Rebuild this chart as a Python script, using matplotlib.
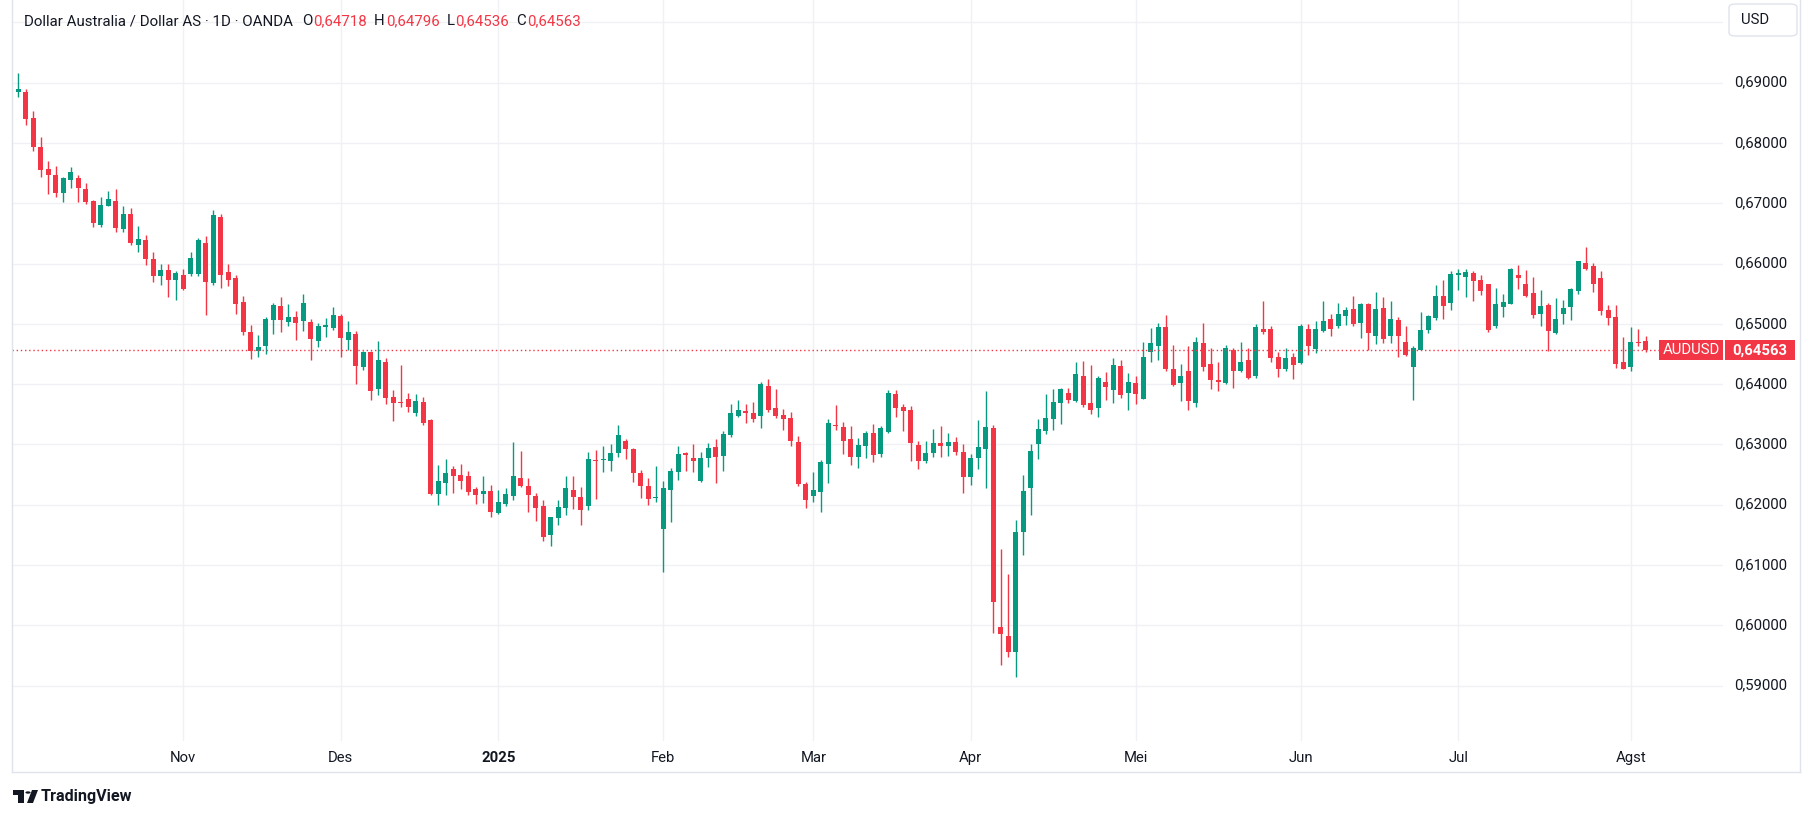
import matplotlib
matplotlib.use('Agg')
import matplotlib.pyplot as plt
import numpy as np
import pandas as pd
from matplotlib.transforms import blended_transform_factory
from matplotlib.patches import Rectangle, FancyBboxPatch, Circle, Polygon
from matplotlib.lines import Line2D

# ---------------- data (AUDUSD daily, OANDA) ----------------
opens = [
0.68851,0.68845,0.68415,0.67935,0.67570,0.67471,0.67178,0.67394,0.67427,0.67239,
0.67040,0.66632,0.66947,0.67040,0.66566,0.66825,0.66300,0.66394,0.66080,0.65800,
0.65900,0.65720,0.65813,0.65830,0.65830,0.66343,0.65686,0.66774,0.65863,0.65763,
0.65366,0.64869,0.64549,0.64626,0.65057,0.65300,0.65034,0.65112,0.65040,0.65034,
0.64709,0.64941,0.64924,0.65138,0.64741,0.64840,0.64282,0.64542,0.63918,0.64376,
0.63780,0.63697,0.63747,0.63521,0.63697,0.63399,0.62179,0.62361,0.62588,0.62488,
0.62472,0.62262,0.62179,0.62229,0.61865,0.62012,0.62144,0.62442,0.62310,0.62144,
0.61979,0.61504,0.61780,0.61946,0.62244,0.62128,0.61979,0.62741,0.62746,0.62724,
0.62856,0.63055,0.62923,0.62525,0.62310,0.62117,0.61598,0.62239,0.62537,0.62863,
0.62780,0.62388,0.62769,0.62962,0.62802,0.63161,0.63465,0.63558,0.63525,0.63465,
0.63972,0.63608,0.63492,0.63442,0.63045,0.62350,0.62140,0.62206,0.62670,0.63327,
0.63293,0.63095,0.62786,0.62968,0.63194,0.62835,0.63200,0.63840,0.63625,0.63575,
0.62995,0.62719,0.62852,0.63028,0.62979,0.63045,0.62880,0.62454,0.62769,0.62918,
0.63277,0.59981,0.59832,0.59567,0.61544,0.62272,0.63001,0.63216,0.63426,0.63696,
0.63856,0.63713,0.64138,0.63691,0.63597,0.64039,0.63906,0.64300,0.63850,0.64012,
0.63752,0.64542,0.64625,0.64956,0.64260,0.64012,0.64211,0.63681,0.64691,0.64327,
0.64062,0.64012,0.64575,0.64227,0.64393,0.64128,0.64923,0.64923,0.64459,0.64244,
0.64459,0.64349,0.64923,0.64580,0.64890,0.65088,0.64972,0.65138,0.65254,0.65022,
0.65337,0.64807,0.65270,0.64807,0.65072,0.64707,0.64277,0.64575,0.64906,0.65105,
0.65469,0.65353,0.65812,0.65779,0.65840,0.65735,0.65658,0.64968,0.65282,0.65332,
0.65807,0.65658,0.65509,0.65166,0.65316,0.64852,0.65166,0.65282,0.65547,0.66006,
0.65956,0.65757,0.65233,0.65122,0.64366,0.64289,0.64697,0.64718]
highs = [
0.69166,0.68895,0.68531,0.68100,0.67708,0.67620,0.67430,0.67603,0.67471,0.67338,
0.67057,0.67107,0.67206,0.67239,0.66958,0.66925,0.66626,0.66477,0.66200,0.66000,
0.66000,0.65870,0.65912,0.66194,0.66426,0.66459,0.66890,0.66823,0.65995,0.65813,
0.65465,0.64985,0.64814,0.65118,0.65344,0.65449,0.65333,0.65217,0.65498,0.65079,
0.65012,0.65101,0.65282,0.65166,0.65055,0.64890,0.64553,0.64550,0.64724,0.64442,
0.63896,0.64310,0.63846,0.63830,0.63780,0.63416,0.62654,0.62753,0.62637,0.62671,
0.62555,0.62295,0.62472,0.62328,0.62245,0.62277,0.63039,0.62890,0.62442,0.62194,
0.62078,0.61800,0.62078,0.62476,0.62476,0.62293,0.62873,0.62906,0.62972,0.63006,
0.63320,0.63088,0.62939,0.62575,0.62442,0.62641,0.62393,0.62614,0.62979,0.62880,
0.63012,0.62880,0.63028,0.63095,0.63227,0.63674,0.63741,0.63674,0.63707,0.64039,
0.64088,0.63923,0.63592,0.63542,0.63144,0.62383,0.62548,0.62736,0.63426,0.63647,
0.63376,0.63310,0.63111,0.63227,0.63343,0.63310,0.63906,0.63906,0.63674,0.63641,
0.63062,0.63062,0.63260,0.63310,0.63194,0.63128,0.63012,0.62835,0.63409,0.63890,
0.63327,0.61273,0.60859,0.61753,0.62499,0.63012,0.63426,0.63840,0.63923,0.63939,
0.63939,0.64360,0.64380,0.64320,0.64138,0.64204,0.64430,0.64400,0.64188,0.64128,
0.64707,0.64939,0.65022,0.65155,0.64658,0.64327,0.64625,0.64790,0.65022,0.64592,
0.64376,0.64658,0.64592,0.64707,0.64592,0.65006,0.65386,0.64972,0.64542,0.64608,
0.64525,0.65006,0.65006,0.65055,0.65386,0.65171,0.65353,0.65287,0.65469,0.65353,
0.65340,0.65535,0.65453,0.65386,0.65121,0.64972,0.64641,0.65204,0.65155,0.65651,
0.65734,0.65880,0.65917,0.65906,0.65879,0.65807,0.65660,0.65592,0.65492,0.65923,
0.65972,0.65890,0.65774,0.65558,0.65349,0.65426,0.65393,0.65592,0.66040,0.66270,
0.66006,0.65873,0.65316,0.65310,0.64780,0.64946,0.64913,0.64796]
lows = [
0.68768,0.68304,0.67874,0.67443,0.67162,0.67096,0.67029,0.67261,0.67029,0.66991,
0.66599,0.66599,0.66947,0.66527,0.66516,0.66312,0.66200,0.65980,0.65700,0.65650,
0.65450,0.65400,0.65554,0.65802,0.65800,0.65140,0.65648,0.65587,0.65636,0.65156,
0.64814,0.64417,0.64450,0.64494,0.64831,0.64858,0.64967,0.64726,0.64875,0.64406,
0.64610,0.64775,0.64900,0.64448,0.64564,0.64001,0.64233,0.63740,0.63819,0.63670,
0.63388,0.63620,0.63537,0.63471,0.63322,0.62163,0.61997,0.62163,0.62196,0.62262,
0.62163,0.62014,0.62030,0.61798,0.61848,0.61979,0.62078,0.62293,0.61879,0.61730,
0.61399,0.61322,0.61664,0.61830,0.61929,0.61664,0.61913,0.62095,0.62542,0.62558,
0.62790,0.62757,0.62376,0.62111,0.61995,0.62045,0.60886,0.61709,0.62405,0.62554,
0.62537,0.62380,0.62620,0.62355,0.62554,0.63117,0.63460,0.63349,0.63376,0.63277,
0.63531,0.63442,0.63233,0.62968,0.62316,0.61941,0.62040,0.61875,0.62355,0.63233,
0.62835,0.62653,0.62603,0.62769,0.62703,0.62786,0.63190,0.63448,0.63216,0.62719,
0.62587,0.62686,0.62786,0.62786,0.62802,0.62819,0.62190,0.62322,0.62587,0.62272,
0.59871,0.59341,0.59474,0.59142,0.61163,0.61825,0.62752,0.63166,0.63233,0.63332,
0.63680,0.63700,0.63614,0.63498,0.63448,0.63741,0.63680,0.63763,0.63564,0.63670,
0.63750,0.64360,0.64393,0.64227,0.63962,0.63714,0.63565,0.63614,0.64227,0.63913,
0.63880,0.63995,0.63929,0.64194,0.64078,0.64095,0.64840,0.64360,0.64111,0.64227,
0.64078,0.64340,0.64481,0.64514,0.64873,0.64807,0.64939,0.64989,0.64972,0.64774,
0.64575,0.64674,0.64691,0.64691,0.64459,0.64470,0.63736,0.64570,0.64856,0.65072,
0.65088,0.65237,0.65564,0.65448,0.65382,0.65481,0.64868,0.64935,0.65117,0.65330,
0.65580,0.65448,0.65100,0.64968,0.64554,0.64835,0.65001,0.65067,0.65492,0.65890,
0.65531,0.65150,0.64984,0.64272,0.64250,0.64223,0.64640,0.64536]
closes = [
0.68895,0.68404,0.67940,0.67559,0.67471,0.67178,0.67421,0.67521,0.67261,0.67029,
0.66665,0.66974,0.67074,0.66582,0.66825,0.66334,0.66411,0.66080,0.65800,0.65900,
0.65720,0.65840,0.65581,0.66100,0.66393,0.65697,0.66807,0.65813,0.65736,0.65322,
0.64858,0.64549,0.64615,0.65079,0.65311,0.65057,0.65112,0.65007,0.65350,0.64742,
0.64967,0.64985,0.65155,0.64763,0.64873,0.64299,0.64542,0.63885,0.64409,0.63770,
0.63686,0.63686,0.63620,0.63714,0.63355,0.62179,0.62389,0.62522,0.62477,0.62395,
0.62212,0.62163,0.62229,0.61881,0.62047,0.62178,0.62476,0.62310,0.62161,0.61946,
0.61471,0.61797,0.61962,0.62277,0.62128,0.61913,0.62757,0.62730,0.62757,0.62856,
0.63155,0.62923,0.62525,0.62310,0.62095,0.62128,0.62277,0.62565,0.62846,0.62819,
0.62719,0.62780,0.62946,0.62786,0.63178,0.63525,0.63575,0.63514,0.63426,0.64006,
0.63564,0.63476,0.63426,0.63051,0.62350,0.62085,0.62250,0.62714,0.63360,0.63299,
0.63051,0.62786,0.62995,0.63194,0.62819,0.63277,0.63856,0.63597,0.63558,0.63017,
0.62719,0.62863,0.63028,0.62968,0.63045,0.62868,0.62454,0.62780,0.62962,0.63293,
0.60384,0.59855,0.59556,0.61555,0.62234,0.62896,0.63260,0.63442,0.63707,0.63923,
0.63741,0.64171,0.63647,0.63580,0.64105,0.63956,0.64320,0.63829,0.64030,0.63830,
0.64459,0.64691,0.64956,0.64244,0.63979,0.64128,0.63714,0.64707,0.64277,0.64062,
0.64034,0.64592,0.64227,0.64376,0.64095,0.64956,0.64873,0.64426,0.64260,0.64426,
0.64310,0.64972,0.64630,0.64923,0.65055,0.64923,0.65171,0.65237,0.65006,0.65337,
0.64856,0.65254,0.64757,0.65088,0.64807,0.64476,0.64592,0.64906,0.65138,0.65469,
0.65304,0.65823,0.65840,0.65856,0.65713,0.65547,0.64902,0.65327,0.65360,0.65906,
0.65763,0.65465,0.65150,0.65293,0.64885,0.65078,0.65260,0.65575,0.66039,0.65912,
0.65663,0.65216,0.65100,0.64338,0.64256,0.64697,0.64686,0.64563]

month_labels = ['Nov', 'Des', '2025', 'Feb', 'Mar', 'Apr', 'Mei', 'Jun', 'Jul', 'Agst']
price_ticks = [0.59, 0.60, 0.61, 0.62, 0.63, 0.64, 0.65, 0.66, 0.67, 0.68, 0.69]
grid_prices = price_ticks + [0.70]
title = 'Dollar Australia / Dollar AS · 1D · OANDA'
symbol = 'AUDUSD'
currency = 'USD'

# trading-day calendar (no candles on 25 Dec and 1 Jan)
dates = pd.bdate_range('2024-10-02', '2025-08-05')
dates = dates[~dates.isin(pd.to_datetime(['2024-12-25', '2025-01-01']))]
n = len(closes)
assert len(dates) == n == len(opens) == len(highs) == len(lows)
month_pos = [i for i in range(1, n) if dates[i].month != dates[i - 1].month]

# ---------------- style ----------------
UP = '#089981'
DOWN = '#f23645'
TXT = '#131722'
GRID = '#f0f1f4'
FRAME = '#e0e3eb'
FS = 10.7

W, H = 1813, 816
plt.rcParams['font.family'] = ['Roboto', 'DejaVu Sans']
fig = plt.figure(figsize=(W / 100, H / 100), dpi=100)
fig.patch.set_facecolor('white')

def fx(x):
    return x / W

def fy(y_top):
    return 1 - y_top / H

PLOT_L, PLOT_R, PLOT_B = 12, 1723, 741
ax = fig.add_axes([fx(PLOT_L), fy(PLOT_B), (PLOT_R - PLOT_L) / W, PLOT_B / H])
ax.set_xlim(-0.84, 227.3)
ax.set_ylim(0.58083, 0.70371)
ax.axis('off')

for p in grid_prices:
    ax.axhline(p, color=GRID, lw=1.0, zorder=0)
for i in month_pos:
    ax.axvline(i, color=GRID, lw=1.0, zorder=0)

o = np.array(opens); h = np.array(highs); l = np.array(lows); c = np.array(closes)
x = np.arange(n)
up = c >= o
cols = np.where(up, UP, DOWN)
ax.vlines(x, l, h, colors=cols, lw=1.0, zorder=2)
bottom = np.minimum(o, c)
height = np.maximum(np.abs(c - o), 0.00017)
ax.bar(x, height, bottom=bottom, width=0.667, color=cols, linewidth=0, zorder=3)

# last price dotted line
last = closes[-1]
ax.axhline(last, xmin=0, xmax=(1659 - PLOT_L) / (PLOT_R - PLOT_L), color=DOWN,
           lw=1.0, linestyle=(0, (1, 2)), zorder=4)

# time axis labels
tr_x = blended_transform_factory(ax.transData, fig.transFigure)
for i, lab in zip(month_pos, month_labels):
    ax.text(i, fy(758), lab, transform=tr_x, ha='center', va='center',
            fontsize=FS, color=TXT, fontweight='bold' if lab == '2025' else 'normal',
            clip_on=False)

# price axis labels
tr_y = blended_transform_factory(fig.transFigure, ax.transData)
for p in price_ticks:
    ax.text(fx(1734), p, f'{p:.5f}'.replace('.', ','), transform=tr_y, ha='left',
            va='center', fontsize=FS, color=TXT, clip_on=False)

# last price labels
fig.canvas.draw()
y_last = ax.transData.transform((0, last))[1]  # display px from bottom
bh = 20
fig.add_artist(Rectangle((fx(1659), (y_last - bh / 2) / H), 64 / W, bh / H,
                         transform=fig.transFigure, facecolor=DOWN, edgecolor='none'))
fig.add_artist(Rectangle((fx(1725), (y_last - bh / 2) / H), 70 / W, bh / H,
                         transform=fig.transFigure, facecolor=DOWN, edgecolor='none'))
fig.text(fx(1691), y_last / H, symbol, color='white', fontsize=FS, ha='center', va='center')
fig.text(fx(1760), y_last / H, f'{last:.5f}'.replace('.', ','), color='white',
         fontsize=FS, ha='center', va='center', fontweight='bold')

# currency box
fig.add_artist(FancyBboxPatch((fx(1729), fy(36)), 68 / W, 32 / H,
                              boxstyle='round,pad=0,rounding_size=0.004',
                              transform=fig.transFigure, facecolor='white',
                              edgecolor=FRAME, lw=1.0))
fig.text(fx(1741), fy(20), currency, color=TXT, fontsize=FS, ha='left', va='center')

# chart frame
for xs, ys in [((12, 12), (0, 772)), ((12, 1800), (772, 772)), ((1800, 1800), (0, 772))]:
    fig.add_artist(Line2D([fx(v) for v in xs], [fy(v) for v in ys], color=FRAME, lw=1.0,
                          transform=fig.transFigure))

# header legend
renderer = fig.canvas.get_renderer()
fmt = lambda v: f'{v:.5f}'.replace('.', ',')
segments = [(title, TXT, 9), ('O', TXT, 1), (fmt(opens[-1]), DOWN, 7),
            ('H', TXT, 1), (fmt(highs[-1]), DOWN, 7), ('L', TXT, 1),
            (fmt(lows[-1]), DOWN, 7), ('C', TXT, 1), (fmt(closes[-1]), DOWN, 0)]
xc = 24
for s, col, gap in segments:
    t = fig.text(fx(xc), fy(21), s, color=col, fontsize=10.8, ha='left', va='center')
    bb = t.get_window_extent(renderer)
    xc = bb.x1 + gap

# TradingView logo
logo = [Rectangle((fx(13), fy(795)), 11 / W, 5 / H),
        Rectangle((fx(18), fy(803)), 6 / W, 13 / H),
        Circle((fx(28), fy(792.5)), 2.6 / W),
        Polygon([(fx(27), fy(803)), (fx(32), fy(790)), (fx(38), fy(790)), (fx(33), fy(803))])]
for art in logo:
    art.set_transform(fig.transFigure)
    art.set_facecolor(TXT)
    art.set_edgecolor('none')
    fig.add_artist(art)
fig.text(fx(41), fy(796), 'TradingView', color=TXT, fontsize=11.6, ha='left',
         va='center', fontweight='semibold')

fig.savefig('out.png', dpi=100, facecolor='white')
